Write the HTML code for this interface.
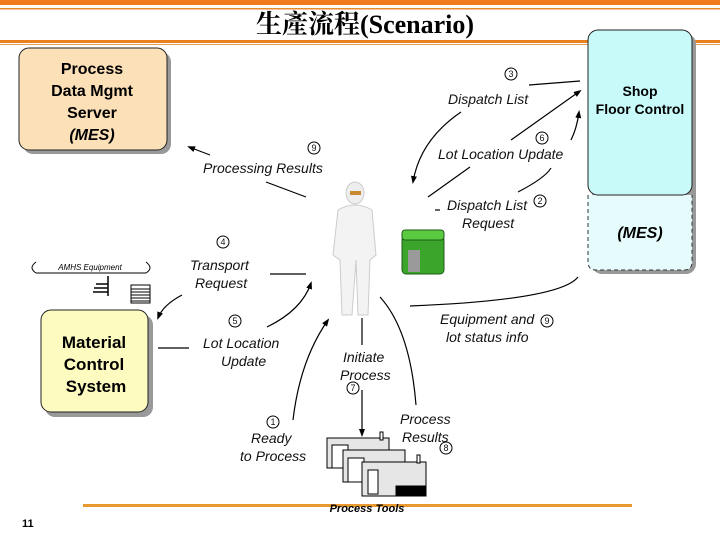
<!DOCTYPE html>
<html><head><meta charset="utf-8"><style>
html,body{margin:0;padding:0;background:#fff;}
svg{display:block;}
.i{font-family:"Liberation Sans",sans-serif;font-style:italic;font-size:14px;fill:#111;}
.b{font-family:"Liberation Sans",sans-serif;font-weight:bold;fill:#000;}
.n{font-family:"Liberation Sans",sans-serif;font-size:9px;fill:#111;}
</style></head><body>
<svg width="720" height="540" viewBox="0 0 720 540" xmlns="http://www.w3.org/2000/svg">
<defs><marker id="a" markerWidth="8" markerHeight="8" refX="6" refY="3" orient="auto" markerUnits="userSpaceOnUse"><path d="M0,0 L8,3 L0,6 z" fill="#000"/></marker></defs>
<rect x="0" y="0" width="720" height="5" fill="#f07a1e"/>
<rect x="0" y="8" width="720" height="1.5" fill="#e88a30"/>
<text x="365" y="33" text-anchor="middle" font-family="'Liberation Serif','Noto Serif CJK SC',serif" font-weight="bold" font-size="26" fill="#000">生產流程(Scenario)</text>
<rect x="0" y="40" width="720" height="3" fill="#e8801e"/>
<rect x="0" y="44" width="720" height="1" fill="#e8a050"/>
<rect x="23" y="52" width="148" height="102" rx="10" fill="#999"/>
<rect x="19" y="48" width="148" height="102" rx="10" fill="#fbe0b8" stroke="#222" stroke-width="1"/>
<text class="b" font-size="16" text-anchor="middle"><tspan x="92" y="74">Process</tspan><tspan x="92" y="96">Data Mgmt</tspan><tspan x="92" y="118">Server</tspan><tspan x="92" y="140" font-style="italic">(MES)</tspan></text>
<rect x="592" y="34" width="104" height="240" rx="10" fill="#999"/>
<path d="M588,195 L588,262 Q588,270 596,270 L684,270 Q692,270 692,262 L692,195" fill="#e6fbfb" stroke="#333" stroke-dasharray="4,3"/>
<rect x="588" y="30" width="104" height="165" rx="10" fill="#c8fafa" stroke="#222"/>
<text class="b" font-size="14" text-anchor="middle"><tspan x="640" y="96">Shop</tspan><tspan x="640" y="114">Floor Control</tspan></text>
<text class="b" font-size="16" font-style="italic" x="640" y="238" text-anchor="middle">(MES)</text>
<rect x="45" y="315" width="108" height="102" rx="10" fill="#999"/>
<rect x="41" y="310" width="107" height="102" rx="10" fill="#fdfbc0" stroke="#222"/>
<text class="b" font-size="17" text-anchor="middle"><tspan x="94" y="348">Material</tspan><tspan x="94" y="370">Control</tspan><tspan x="96" y="392">System</tspan></text>
<path d="M36,262 Q28,268 36,273 M146,262 Q154,268 146,273 M36,273 L146,273" fill="none" stroke="#000"/>
<text x="90" y="270" text-anchor="middle" font-family="Liberation Sans,sans-serif" font-style="italic" font-size="8">AMHS Equipment</text>
<path d="M108,276 L108,296 M96,284 L108,284 M94,288 L108,288 M93,292 L108,292" stroke="#000" stroke-width="1.5"/>
<rect x="131" y="285" width="19" height="18" fill="#fff" stroke="#000"/>
<path d="M131,289h19M131,292h19M131,295h19M131,298h19M131,301h19" stroke="#000"/>
<ellipse cx="355" cy="193" rx="9" ry="11" fill="#eee" stroke="#ccc"/>
<rect x="350" y="191" width="11" height="4" fill="#c78a30"/>
<path d="M338,210 Q355,200 372,210 L376,255 L370,260 L368,315 L358,315 L356,260 L352,315 L342,315 L340,260 L333,255 Z" fill="#f3f3f3" stroke="#ccc"/>
<rect x="402" y="236" width="42" height="38" rx="4" fill="#3aa52a" stroke="#1d5a1a"/>
<rect x="402" y="230" width="42" height="10" rx="3" fill="#5acb40" stroke="#1d5a1a"/>
<rect x="408" y="250" width="12" height="22" fill="#9a9a9a"/>
<g stroke="#000" fill="#e6e6e6">
<rect x="327" y="438" width="62" height="30"/><rect x="332" y="445" width="16" height="23" fill="#fff"/>
<rect x="343" y="450" width="62" height="32"/><rect x="348" y="458" width="16" height="24" fill="#fff"/>
<rect x="362" y="462" width="64" height="34"/><rect x="368" y="470" width="10" height="24" fill="#fff"/>
<rect x="396" y="486" width="30" height="10" fill="#000"/>
<rect x="380" y="432" width="3" height="8" fill="#fff"/><rect x="417" y="455" width="3" height="8" fill="#fff"/>
</g>
<g fill="none" stroke="#000" stroke-width="1.2">
<path d="M529,85 L580,81"/>
<path d="M461,112 Q420,140 413,182" marker-end="url(#a)"/>
<path d="M511,140 L580,91" marker-end="url(#a)"/>
<path d="M428,197 L470,167"/>
<path d="M518,192 Q545,178 551,168"/>
<path d="M571,140 Q577,128 579,112" marker-end="url(#a)"/>
<path d="M435,210 L440,210"/>
<path d="M306,197 L266,182"/>
<path d="M210,155 L189,147" marker-end="url(#a)"/>
<path d="M270,274 L306,274"/>
<path d="M182,295 Q163,305 158,318" marker-end="url(#a)"/>
<path d="M158,348 L189,348"/>
<path d="M267,327 Q302,310 311,283" marker-end="url(#a)"/>
<path d="M293,420 Q300,360 328,320" marker-end="url(#a)"/>
<path d="M362,318 L362,345"/>
<path d="M362,390 L362,435" marker-end="url(#a)"/>
<path d="M380,297 Q410,330 416,405"/>
<path d="M410,306 Q560,300 578,277"/>
</g>
<text class="i" x="448" y="104">Dispatch List</text>
<text class="i" x="438" y="159">Lot Location Update</text>
<text class="i" x="203" y="173">Processing Results</text>
<text class="i" x="447" y="210">Dispatch List</text>
<text class="i" x="462" y="228">Request</text>
<text class="i" x="190" y="270">Transport</text>
<text class="i" x="195" y="288">Request</text>
<text class="i" x="203" y="348">Lot Location</text>
<text class="i" x="221" y="366">Update</text>
<text class="i" x="343" y="362">Initiate</text>
<text class="i" x="340" y="380">Process</text>
<text class="i" x="440" y="324">Equipment and</text>
<text class="i" x="446" y="342">lot status info</text>
<text class="i" x="251" y="443">Ready</text>
<text class="i" x="240" y="461">to Process</text>
<text class="i" x="400" y="424">Process</text>
<text class="i" x="402" y="442">Results</text>
<g fill="#fff" stroke="#000">
<circle cx="511" cy="74" r="6"/><circle cx="542" cy="138" r="6"/><circle cx="314" cy="148" r="6"/>
<circle cx="540" cy="201" r="6"/><circle cx="223" cy="242" r="6"/><circle cx="235" cy="321" r="6"/>
<circle cx="547" cy="321" r="6"/><circle cx="353" cy="388" r="6"/><circle cx="273" cy="422" r="6"/><circle cx="446" cy="448" r="6"/>
</g>
<g class="n" text-anchor="middle">
<text x="511" y="77">3</text><text x="542" y="141">6</text><text x="314" y="151">9</text><text x="540" y="204">2</text>
<text x="223" y="245">4</text><text x="235" y="324">5</text><text x="547" y="324">9</text><text x="353" y="391">7</text>
<text x="273" y="425">1</text><text x="446" y="451">8</text>
</g>
<rect x="83" y="504" width="549" height="3" fill="#e89a30"/>
<text x="367" y="512" text-anchor="middle" font-family="Liberation Sans,sans-serif" font-style="italic" font-weight="bold" font-size="11">Process Tools</text>
<text x="22" y="527" font-family="Liberation Sans,sans-serif" font-weight="bold" font-size="11">11</text>
</svg>
</body></html>
